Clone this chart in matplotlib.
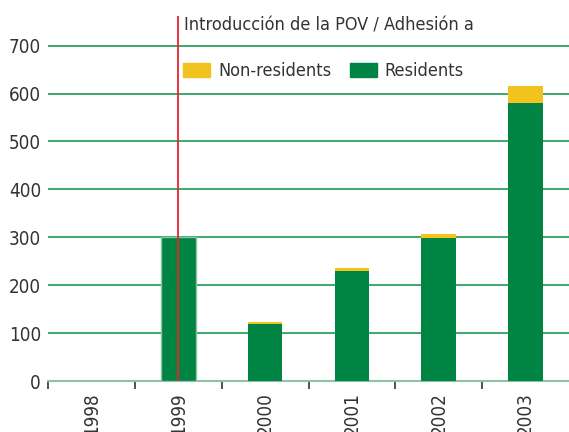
import numpy as np
import matplotlib
matplotlib.use("Agg")
import matplotlib.pyplot as plt
from matplotlib.patches import Patch

# data
years = ["1998", "1999", "2000", "2001", "2002", "2003"]
residents = [0, 300, 118, 229, 298, 580]
non_residents = [0, 0, 6, 6, 8, 36]
y_ticks = [0, 100, 200, 300, 400, 500, 600, 700]

GREEN = "#008443"
YELLOW = "#f2c31f"
GRID = "#1a9a55"
TEXT = "#333333"

plt.rcParams['font.family'] = ['DejaVu Sans']
plt.rcParams['font.stretch'] = 'condensed'
FS = 13


def main():
    fig = plt.figure(figsize=(5.69, 4.32), dpi=100)
    ax = fig.add_axes([0.0844, 0.118, 0.9156, 0.845])

    x = np.arange(len(years))
    bars = ax.bar(x, residents, width=0.4, color=GREEN, zorder=3)
    # 1999 bar has a faint light outline in the original
    bars[1].set_edgecolor("#8cc5a5")
    bars[1].set_linewidth(1.0)
    ax.bar(x, non_residents, width=0.4, bottom=residents, color=YELLOW, zorder=3)

    ax.set_xlim(-0.5, len(years) - 0.5)
    ax.set_ylim(0, 762)

    ax.set_yticks(y_ticks)
    ax.set_yticklabels([str(v) for v in y_ticks], fontsize=FS + 0.5, color=TEXT)
    ax.tick_params(axis='y', length=0, pad=5)
    for v in y_ticks[1:]:
        ax.axhline(v, color=GRID, lw=1.2, zorder=1)

    # category boundary ticks, labels in between
    ax.set_xticks(np.arange(len(years)) - 0.5)
    ax.set_xticklabels([])
    ax.set_xticks(x, minor=True)
    ax.set_xticklabels(years, minor=True, rotation=90, fontsize=FS + 0.5, color=TEXT)
    ax.tick_params(axis='x', which='major', length=6, width=1.2, color="#333333", direction='out')
    ax.tick_params(axis='x', which='minor', length=0, pad=8)

    for s in ['top', 'right', 'left']:
        ax.spines[s].set_visible(False)
    ax.spines['bottom'].set_color("#8cc5a5")
    ax.spines['bottom'].set_linewidth(1.5)

    # marker for 1999
    ax.axvline(1, color="#e8232a", lw=1.3, zorder=4, ymin=0, ymax=1)
    ax.text(1.07, 742, "Introducción de la POV / Adhesión a", fontsize=FS,
            color=TEXT, va='center', ha='left')

    handles = [Patch(color=YELLOW, label="Non-residents"),
               Patch(color=GREEN, label="Residents")]
    ax.legend(handles=handles, loc='upper left', bbox_to_anchor=(0.242, 0.898),
              frameon=False, ncol=2, fontsize=FS, handlelength=1.5, handleheight=0.8,
              columnspacing=1.0, handletextpad=0.45, borderpad=0, labelcolor=TEXT)

    fig.savefig("out.png", dpi=100)


if __name__ == '__main__':
    main()
